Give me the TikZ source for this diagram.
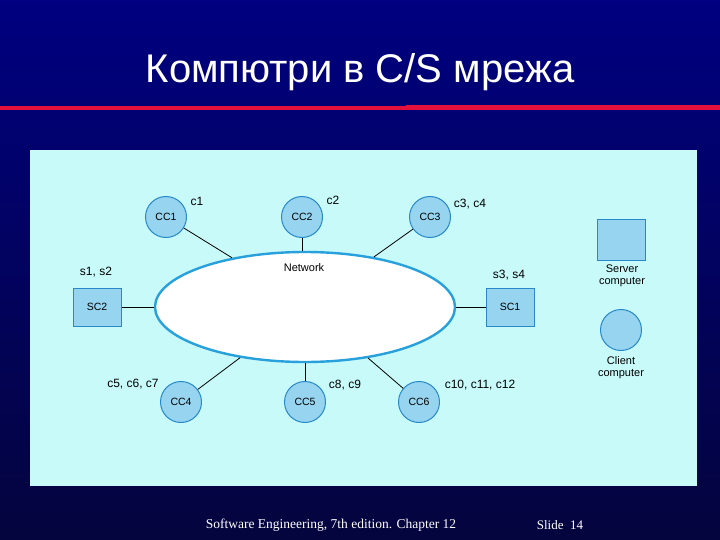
\documentclass[tikz,border=0pt]{standalone}
\usepackage{fontspec}
\setmainfont{Liberation Sans}
\newfontfamily\titlefont{Liberation Sans}
\newfontfamily\footfont{Liberation Serif}
\usetikzlibrary{shapes.geometric}
\definecolor{slidetop}{RGB}{0,0,128}
\definecolor{slidebot}{RGB}{4,4,62}
\definecolor{rulered}{RGB}{226,16,58}
\definecolor{panelcyan}{RGB}{200,250,250}
\definecolor{nodeblue}{RGB}{150,212,240}
\definecolor{edgeblue}{RGB}{40,136,200}
\definecolor{netblue}{RGB}{40,160,220}

\begin{document}
\begin{tikzpicture}[x=1pt, y=-1pt,
  client/.style={circle, draw=edgeblue, fill=nodeblue, line width=1pt,
                 minimum size=41pt, inner sep=0pt, font=\fontsize{10.5}{12}\selectfont},
  server/.style={rectangle, draw=edgeblue, fill=nodeblue, line width=1pt,
                 minimum width=48pt, minimum height=38pt, inner sep=0pt,
                 font=\fontsize{10.5}{12}\selectfont},
  lbl/.style={inner sep=0pt, font=\fontsize{12}{13}\selectfont},
  link/.style={draw=black, line width=0.8pt}
]
% slide background and title
\shade[top color=slidetop, bottom color=slidebot] (0,0) rectangle (720,540);
\node[text=white, font=\titlefont\fontsize{40}{44}\selectfont] (title) at (360,72) {Компютри в C/S мрежа};
\fill[rulered] (0,106) rectangle (406,110);
\fill[rulered] (406,105.5) rectangle (720,110);
\fill[panelcyan] (30,150) rectangle (697,486);

% network
\node[ellipse, draw=netblue, fill=white, line width=2.4pt, minimum width=300pt,
      minimum height=110pt, inner sep=0pt] (net) at (305,307) {};
\node[lbl, font=\fontsize{11}{12}\selectfont] (netlbl) at (304,268) {Network};

% computers
\node[client] (cc1) at (166,217) {CC1};
\node[client] (cc2) at (302,217) {CC2};
\node[client] (cc3) at (430,217) {CC3};
\node[client] (cc4) at (181,402) {CC4};
\node[client] (cc5) at (305,402) {CC5};
\node[client] (cc6) at (419,402) {CC6};
\node[server] (sc2) at (97,307) {SC2};
\node[server] (sc1) at (510,307) {SC1};

% labels
\node[lbl] (c1) at (197,201) {c1};
\node[lbl] (c2) at (333,200) {c2};
\node[lbl] (c34) at (470,204) {c3, c4};
\node[lbl] (s12) at (96,272) {s1, s2};
\node[lbl] (s34) at (509,275) {s3, s4};
\node[lbl] (c567) at (133,384) {c5, c6, c7};
\node[lbl] (c89) at (345,385) {c8, c9};
\node[lbl] (c101112) at (480,385) {c10, c11, c12};

% links
\draw[link] (cc1) -- (net.146);
\draw[link] (cc2) -- (cc2 |- net.north);
\draw[link] (cc3) -- (net.36);
\draw[link] (sc2) -- (net.west);
\draw[link] (net.east) -- (sc1);
\draw[link] (cc4) -- (net.218);
\draw[link] (cc5) -- (net.270);
\draw[link] (cc6) -- (net.321);

% legend
\node[server, minimum height=40pt] (keyserver) at (621,240) {};
\node[lbl, align=center, font=\fontsize{11}{12}\selectfont] (keyservertxt) at (622,276) {Server\\computer};
\node[client] (keyclient) at (621,330) {};
\node[lbl, align=center, font=\fontsize{11}{12}\selectfont] (keyclienttxt) at (621,368) {Client\\computer};

% footer
\node[text=white, font=\footfont\fontsize{13.5}{15}\selectfont] (foot) at (331,525) {Software Engineering, 7th edition. Chapter 12};
\node[text=white, font=\footfont\fontsize{13}{15}\selectfont] (slide) at (560,525) {Slide~~14};
\end{tikzpicture}
\end{document}
